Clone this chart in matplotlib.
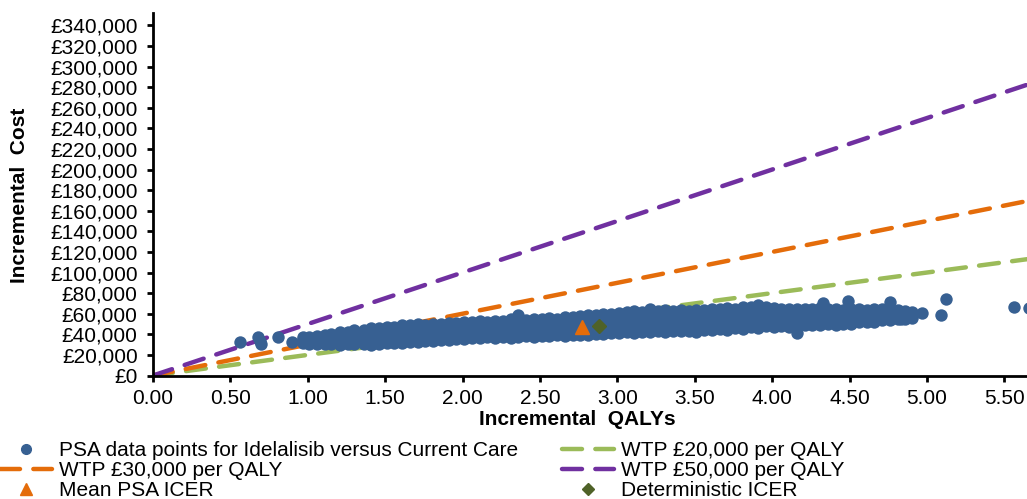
import matplotlib.pyplot as plt
from matplotlib.lines import Line2D
import numpy as np

plt.rcParams['font.family'] = ['Liberation Sans', 'DejaVu Sans']

# PSA cloud (QALY, then four cost rows)
psa_qaly = [0.97, 1.01, 1.06, 1.11, 1.15, 1.21, 1.26, 1.30, 1.36, 1.41,
            1.46, 1.51, 1.56, 1.61, 1.66, 1.71, 1.76, 1.81, 1.86, 1.91,
            1.96, 2.01, 2.06, 2.11, 2.16, 2.21, 2.26, 2.31, 2.36, 2.41,
            2.46, 2.51, 2.56, 2.61, 2.66, 2.71, 2.76, 2.81, 2.86, 2.91,
            2.96, 3.01, 3.06, 3.11, 3.16, 3.21, 3.26, 3.31, 3.36, 3.41,
            3.46, 3.51, 3.56, 3.61, 3.66, 3.71, 3.76, 3.81, 3.86, 3.91,
            3.96, 4.01, 4.06, 4.11, 4.16, 4.21, 4.26, 4.31, 4.36, 4.41,
            4.46, 4.51, 4.56, 4.61, 4.66, 4.71, 4.76, 4.81, 4.86, 4.90]
cost_low = [31.2, 30.4, 30.9, 30.2, 31.0, 30.1, 30.9, 30.2, 30.8, 30.1,
            30.9, 31.4, 31.2, 31.8, 32.3, 32.1, 33.8, 33.6, 34.9, 34.7,
            35.8, 35.6, 36.3, 36.0, 36.9, 36.4, 37.2, 36.8, 37.3, 37.9,
            37.6, 38.2, 38.4, 38.9, 38.3, 39.2, 39.4, 39.8, 40.4, 40.2,
            41.3, 41.0, 41.8, 41.6, 42.7, 42.2, 42.9, 42.3, 43.4, 42.8,
            43.3, 42.6, 43.8, 43.7, 44.9, 44.6, 45.7, 45.4, 46.8, 46.5,
            47.8, 47.3, 47.9, 47.2, 47.8, 48.6, 49.3, 48.8, 49.7, 49.2,
            50.4, 50.3, 51.6, 52.1, 52.4, 53.6, 54.2, 54.7, 54.4, 56.1]
cost_midlow = [33.1, 32.6, 33.0, 33.6, 33.7, 34.4, 34.2, 35.1, 35.0, 35.7,
               35.6, 36.0, 36.9, 37.0, 37.8, 38.3, 38.6, 39.5, 39.6, 40.4,
               40.6, 41.5, 41.1, 42.0, 41.6, 42.5, 42.1, 42.8, 43.2, 43.0,
               43.7, 43.4, 44.1, 43.9, 44.6, 45.0, 45.5, 45.7, 46.4, 46.6,
               47.4, 47.7, 48.2, 48.4, 49.1, 49.5, 49.2, 49.6, 49.4, 49.8,
               49.3, 49.9, 50.1, 50.8, 51.0, 51.8, 52.1, 52.7, 53.0, 53.6,
               53.9, 53.4, 53.0, 53.3, 53.1, 53.9, 54.2, 54.5, 54.6, 54.3,
               54.8, 55.2, 55.9, 56.0, 56.6, 57.3, 57.4, 57.6, 57.2, 58.2]
cost_midhigh = [35.0, 35.4, 36.1, 36.4, 37.4, 37.6, 38.7, 39.0, 39.8, 40.6,
                41.1, 41.9, 42.1, 43.1, 43.2, 44.0, 44.4, 44.6, 45.3, 45.8,
                46.2, 46.8, 46.9, 47.1, 47.4, 47.6, 48.0, 48.4, 48.9, 49.1,
                49.3, 49.6, 50.0, 49.8, 50.4, 51.1, 51.3, 52.4, 52.7, 53.4,
                53.6, 54.3, 54.9, 55.6, 55.8, 56.4, 56.7, 56.2, 56.6, 56.3,
                56.8, 56.1, 57.0, 57.3, 58.1, 58.4, 58.9, 59.5, 59.8, 60.4,
                60.2, 59.6, 59.1, 58.8, 59.0, 59.2, 59.9, 59.6, 59.4, 59.8,
                59.5, 60.0, 60.3, 60.1, 60.5, 60.9, 60.6, 60.5, 59.9, 60.0]
cost_high = [37.3, 37.8, 38.2, 39.8, 40.1, 41.8, 42.1, 43.8, 44.2, 45.9,
             46.2, 47.5, 47.0, 48.9, 48.6, 50.1, 49.2, 50.4, 50.2, 51.3,
             51.1, 52.4, 51.6, 52.9, 52.0, 53.3, 52.6, 54.6, 58.4, 54.2,
             55.3, 54.8, 55.7, 55.1, 56.8, 56.6, 57.9, 59.2, 58.6, 59.8,
             59.7, 60.8, 61.2, 62.3, 61.9, 64.1, 63.0, 63.8, 62.6, 63.4,
             62.9, 63.7, 63.2, 64.4, 64.1, 65.3, 65.0, 66.2, 66.1, 68.9,
             66.6, 65.8, 64.2, 64.7, 64.3, 64.6, 64.8, 65.2, 64.3, 64.7,
             63.8, 64.6, 64.2, 63.9, 64.6, 64.3, 63.8, 63.4, 62.5, 61.8]

# scattered points outside the main band
out_qaly = [0.56, 0.68, 0.70, 0.69, 0.81, 0.90, 4.16, 4.33, 4.49, 4.76,
            4.83, 4.86, 4.97, 5.09, 5.12, 5.56, 5.66]
out_cost = [32.2, 37.0, 30.5, 33.5, 37.0, 32.2, 41.0, 70.6, 72.6, 71.6,
            54.5, 60.3, 60.3, 58.7, 73.9, 66.1, 66.0]

mean_qaly, mean_cost = 2.77, 47500
det_qaly, det_cost = 2.88, 48300

wtp_values = [20000, 30000, 50000]
wtp_colors = ['#9BBB59', '#E46C0A', '#7030A0']
wtp_labels = ['WTP £20,000 per QALY', 'WTP £30,000 per QALY', 'WTP £50,000 per QALY']

cost_ticks = list(range(0, 340001, 20000))
qaly_ticks = [0.0, 0.5, 1.0, 1.5, 2.0, 2.5, 3.0, 3.5, 4.0, 4.5, 5.0, 5.5]
x_max = 5.646
y_max = 352000

blue = '#376092'

fig = plt.figure(figsize=(10.27, 4.99), dpi=100)
ax = fig.add_axes([153 / 1027, 1 - 375.5 / 499, 874 / 1027, 362.5 / 499])

# WTP thresholds
line_x = np.array([0, x_max])
wtp_lines = {}
for wtp, col, lab in zip(wtp_values, wtp_colors, wtp_labels):
    wtp_lines[lab], = ax.plot(line_x, line_x * wtp, color=col, lw=3.2,
                              dashes=(4.5, 3), dash_capstyle='round', zorder=2)

qx = np.concatenate([psa_qaly] * 4 + [out_qaly])
cy = np.concatenate([cost_low, cost_midlow, cost_midhigh, cost_high, out_cost]) * 1000
ax.scatter(qx, cy, s=80, color=blue, linewidths=0, zorder=3)

ax.plot(mean_qaly, mean_cost, marker='^', ms=10, color='#E46C0A', ls='none', zorder=4)
ax.plot(det_qaly, det_cost, marker='D', ms=7.5, color='#4F6228', ls='none', zorder=4)

ax.set_xlim(0, x_max)
ax.set_ylim(0, y_max)
ax.set_xticks(qaly_ticks)
ax.set_xticklabels([f'{v:.2f}' for v in qaly_ticks])
ax.set_yticks(cost_ticks)
ax.set_yticklabels([f'£{v:,}' for v in cost_ticks])

for s in ['top', 'right']:
    ax.spines[s].set_visible(False)
for s in ['left', 'bottom']:
    ax.spines[s].set_linewidth(2)
ax.tick_params(direction='out', length=4.5, width=2, labelsize=15)
ax.tick_params(axis='y', pad=6.5)
ax.tick_params(axis='x', pad=5)

fig.text(20 / 1027, 1 - 195 / 499, 'Incremental  Cost', rotation=90, fontsize=15,
         fontweight='bold', ha='center', va='center')
fig.text(577 / 1027, 1 - 425 / 499, 'Incremental  QALYs', fontsize=15,
         fontweight='bold', ha='center', va='baseline')

# legend
h_psa = Line2D([], [], ls='none', marker='o', ms=7, color=blue)
h_mean = Line2D([], [], ls='none', marker='^', ms=9, color='#E46C0A')
h_det = Line2D([], [], ls='none', marker='D', ms=6, color='#4F6228')
handles = [h_psa, wtp_lines[wtp_labels[1]], h_mean,
           wtp_lines[wtp_labels[0]], wtp_lines[wtp_labels[2]], h_det]
labels = ['PSA data points for Idelalisib versus Current Care', wtp_labels[1],
          'Mean PSA ICER', wtp_labels[0], wtp_labels[2], 'Deterministic ICER']
fig.legend(handles, labels, ncol=2, loc='upper left', bbox_to_anchor=(0.0, 0.116),
           frameon=False, fontsize=15, handlelength=2.5, handletextpad=0.33,
           columnspacing=2.1, labelspacing=0.05, borderpad=0, borderaxespad=0)

fig.savefig('out.png', dpi=100)
